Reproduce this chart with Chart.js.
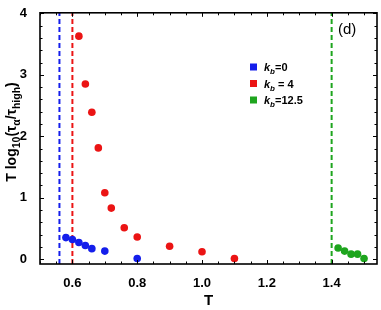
<!DOCTYPE html>
<html>
<head>
<meta charset="utf-8">
<script src="https://cdn.jsdelivr.net/npm/chart.js@4/dist/chart.umd.min.js"></script>
<style>
  html, body { margin: 0; padding: 0; background: #fff; }
</style>
</head>
<body>
<canvas id="chart" width="381" height="310"></canvas>
<script>
// data
var tempK0 = [0.58, 0.60, 0.62, 0.64, 0.66, 0.70, 0.80];
var valK0 = [0.35, 0.32, 0.27, 0.22, 0.17, 0.13, 0.01];
var tempK4 = [0.62, 0.64, 0.66, 0.68, 0.70, 0.72, 0.76, 0.80, 0.90, 1.00, 1.10];
var valK4 = [3.63, 2.85, 2.39, 1.81, 1.08, 0.83, 0.51, 0.36, 0.21, 0.12, 0.01];
var tempK12 = [1.42, 1.44, 1.46, 1.48, 1.50];
var valK12 = [0.18, 0.13, 0.08, 0.08, 0.01];
var dashT = [0.56, 0.60, 1.40];   // vertical dashed lines, one per series
var seriesKb = ['=0', ' = 4', '=12.5'];
var xTicks = [0.6, 0.8, 1.0, 1.2, 1.4];
var yTicks = [0, 1, 2, 3, 4];
var xRange = [0.5, 1.54];
var yRange = [-0.08, 4.01];

var colors = ['rgb(20,30,235)', 'rgb(235,20,20)', 'rgb(30,165,30)'];
var FONT = '"Liberation Sans", Arial, sans-serif';

function pts(xs, ys) {
    return xs.map(function (x, i) { return {x: x, y: ys[i]}; });
}

var datasets = [
    {data: pts(tempK0, valK0)},
    {data: pts(tempK4, valK4)},
    {data: pts(tempK12, valK12)}
].map(function (d, i) {
    d.backgroundColor = colors[i];
    d.borderColor = colors[i];
    d.pointRadius = 3.8;
    d.pointBorderWidth = 0;
    d.showLine = false;
    return d;
});

dashT.forEach(function (t, i) {
    datasets.push({
        data: [{x: t, y: yRange[0]}, {x: t, y: yRange[1]}],
        showLine: true,
        borderColor: colors[i],
        borderWidth: 2,
        borderDash: [5, 3],
        pointRadius: 0
    });
});

// box frame with inward ticks on all sides
var framePlugin = {
    id: 'frame',
    afterDraw: function (chart) {
        var ctx = chart.ctx, a = chart.chartArea;
        var xs = chart.scales.x, ys = chart.scales.y;
        ctx.save();
        ctx.strokeStyle = '#000';
        ctx.lineWidth = 1;
        var v, p, len;
        for (v = 0.5; v <= xRange[1] + 1e-9; v += 0.05) {
            p = Math.round(xs.getPixelForValue(v)) + 0.5;
            len = Math.abs(Math.round(v * 100) % 20) < 1e-6 ? 4 : 2.5;
            ctx.beginPath();
            ctx.moveTo(p, a.bottom); ctx.lineTo(p, a.bottom - len);
            ctx.moveTo(p, a.top); ctx.lineTo(p, a.top + len);
            ctx.stroke();
        }
        for (v = 0; v <= 4.0001; v += 0.2) {
            p = Math.round(ys.getPixelForValue(v)) + 0.5;
            len = Math.abs(v - Math.round(v)) < 1e-6 ? 4 : 2.5;
            ctx.beginPath();
            ctx.moveTo(a.left, p); ctx.lineTo(a.left + len, p);
            ctx.moveTo(a.right, p); ctx.lineTo(a.right - len, p);
            ctx.stroke();
        }
        ctx.lineWidth = 1.6;
        ctx.strokeRect(a.left, a.top, a.right - a.left, a.bottom - a.top);
        ctx.restore();
    }
};

// y title with subscripts, legend with italic k_b, panel tag
function runs(ctx, parts, x, y) {
    parts.forEach(function (p) {
        ctx.font = p.f;
        ctx.fillText(p.t, x, y + (p.dy || 0));
        x += ctx.measureText(p.t).width;
    });
    return x;
}
function runsWidth(ctx, parts) {
    var w = 0;
    parts.forEach(function (p) { ctx.font = p.f; w += ctx.measureText(p.t).width; });
    return w;
}

var textPlugin = {
    id: 'texts',
    afterDraw: function (chart) {
        var ctx = chart.ctx;
        ctx.save();
        ctx.fillStyle = '#000';
        ctx.textBaseline = 'alphabetic';
        ctx.textAlign = 'left';

        var big = 'bold 14px ' + FONT, sm = 'bold 10.5px ' + FONT;
        var title = [
            {t: 'T log', f: big}, {t: '10', f: sm, dy: 4},
            {t: '(', f: big}, {t: 'τ', f: big}, {t: 'α', f: sm, dy: 4},
            {t: '/', f: big}, {t: 'τ', f: big}, {t: 'high', f: sm, dy: 4},
            {t: ')', f: big}
        ];
        ctx.save();
        ctx.translate(16, 132);
        ctx.rotate(-Math.PI / 2);
        runs(ctx, title, -runsWidth(ctx, title) / 2, 0);
        ctx.restore();

        // legend
        var lx = 250, ly = 67;
        seriesKb.forEach(function (s, i) {
            var y = ly + i * 16.5;
            ctx.fillStyle = colors[i];
            ctx.fillRect(lx, y - 3.5, 7, 7);
            ctx.fillStyle = '#000';
            runs(ctx, [
                {t: 'k', f: 'italic bold 11px ' + FONT},
                {t: 'b', f: 'italic bold 8px ' + FONT, dy: 3},
                {t: s, f: 'bold 11px ' + FONT}
            ], lx + 14, y + 4);
        });

        ctx.font = '15px ' + FONT;
        ctx.fillText('(d)', 338, 34);
        ctx.restore();
    }
};

new Chart(document.getElementById('chart').getContext('2d'), {
    type: 'scatter',
    data: {datasets: datasets},
    options: {
        responsive: false,
        animation: false,
        devicePixelRatio: 1,
        layout: {padding: {top: 9, right: 4, left: 0, bottom: 0}},
        plugins: {legend: {display: false}, tooltip: {enabled: false}},
        scales: {
            x: {
                type: 'linear',
                min: xRange[0], max: xRange[1],
                afterBuildTicks: function (s) { s.ticks = xTicks.map(function (v) { return {value: v}; }); },
                afterFit: function (s) { s.height = 46; },
                grid: {display: false},
                border: {display: false},
                ticks: {
                    color: '#000', padding: 4,
                    font: {family: FONT, size: 13, weight: 'bold'},
                    callback: function (v) { return v.toFixed(1); }
                },
                title: {
                    display: true, text: 'T', color: '#000',
                    font: {family: FONT, size: 15, weight: 'bold'},
                    padding: {top: 2, bottom: 0}
                }
            },
            y: {
                type: 'linear',
                min: yRange[0], max: yRange[1],
                afterBuildTicks: function (s) { s.ticks = yTicks.map(function (v) { return {value: v}; }); },
                afterFit: function (s) { s.width = 40; },
                grid: {display: false},
                border: {display: false},
                ticks: {
                    color: '#000', padding: 5,
                    font: {family: FONT, size: 13, weight: 'bold'},
                    callback: function (v) { return String(v); }
                }
            }
        }
    },
    plugins: [framePlugin, textPlugin]
});
</script>
</body>
</html>
